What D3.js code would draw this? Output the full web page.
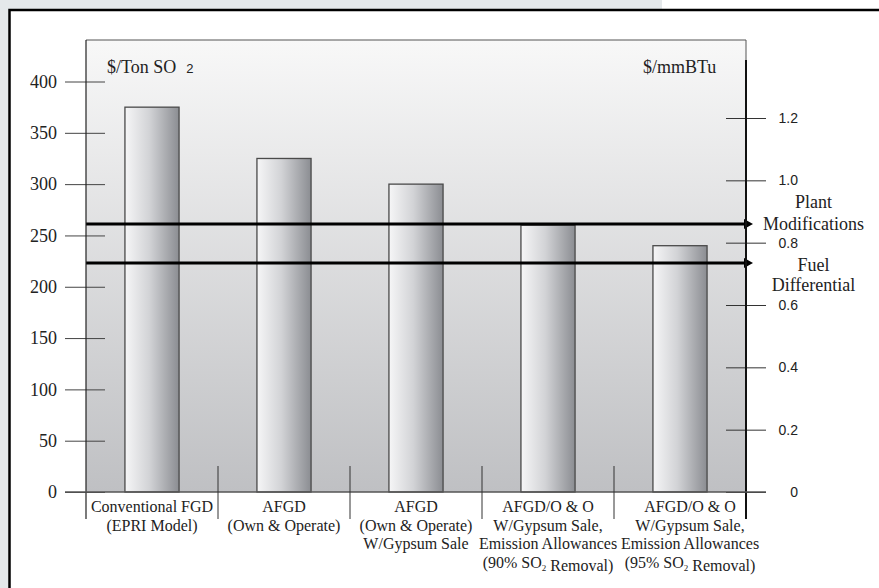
<!DOCTYPE html>
<html>
<head>
<meta charset="utf-8">
<script src="https://cdn.jsdelivr.net/npm/d3@7"></script>
<style>
  body { margin: 0; background: #fff; }
  svg { display: block; }
  .serif { font-family: "Liberation Serif", "Times New Roman", serif; fill: #222; }
  .sans { font-family: "Liberation Sans", Arial, sans-serif; fill: #222; }
</style>
</head>
<body>
<svg width="879" height="588"></svg>
<script>
// categories (label lines), cost per ton, right axis ticks, arrow levels
var categories = ["conv", "afgd", "afgdGyp", "afgd90", "afgd95"];
var catLabels = [
  ["Conventional FGD", "(EPRI Model)"],
  ["AFGD", "(Own & Operate)"],
  ["AFGD", "(Own & Operate)", "W/Gypsum Sale"],
  ["AFGD/O & O", "W/Gypsum Sale,", "Emission Allowances", "(90% SO2 Removal)"],
  ["AFGD/O & O", "W/Gypsum Sale,", "Emission Allowances", "(95% SO2 Removal)"]
];
var costPerTon = [375, 325, 300, 260, 240];
var leftTicks = [0, 50, 100, 150, 200, 250, 300, 350, 400];
var rightTicks = [0, 0.2, 0.4, 0.6, 0.8, 1.0, 1.2];
var rightTickLabels = ["0", "0.2", "0.4", "0.6", "0.8", "1.0", "1.2"];
var arrowNames = [["Plant", "Modifications"], ["Fuel", "Differential"]];
var arrowLevels = [0.86, 0.735]; // $/mmBTu

(function () {
var svg = d3.select("svg"),
  width = +svg.attr("width"),
  height = +svg.attr("height");

var left = 86, right = 746, plotTop = 40, base = 492;
// vertical offsets of the two label lines next to each arrow
var arrowLabelDy = [[-16, 6], [8, 28]];

var x = d3.scaleBand().domain(categories).range([left, right]);
var y = d3.scaleLinear().domain([0, 400]).range([base, 81.5]);
var yR = d3.scaleLinear().domain([0, 1.2]).range([base, 118]);

var defs = svg.append("defs");

var bgGrad = defs.append("linearGradient")
  .attr("id", "bg").attr("x1", 0).attr("y1", 0).attr("x2", 0).attr("y2", 1);
bgGrad.append("stop").attr("offset", "0%").attr("stop-color", "#f8f8f8");
bgGrad.append("stop").attr("offset", "100%").attr("stop-color", "#bfc0c3");

var barGrad = defs.append("linearGradient")
  .attr("id", "bar").attr("x1", 0).attr("y1", 0).attr("x2", 1).attr("y2", 0);
barGrad.append("stop").attr("offset", "0%").attr("stop-color", "#f6f6f7");
barGrad.append("stop").attr("offset", "45%").attr("stop-color", "#d2d3d6");
barGrad.append("stop").attr("offset", "100%").attr("stop-color", "#8b8d92");

defs.append("marker")
  .attr("id", "arrowhead")
  .attr("markerUnits", "userSpaceOnUse")
  .attr("viewBox", "0 0 9 10")
  .attr("markerWidth", 9).attr("markerHeight", 10)
  .attr("refX", 1).attr("refY", 5)
  .attr("orient", "auto")
  .append("path").attr("d", "M0,0 L9,5 L0,10 z").attr("fill", "#000");

// page backdrop and frame
svg.append("rect").attr("x", 0).attr("y", 0).attr("width", 662).attr("height", 10).attr("fill", "#e4e8ea");
svg.append("rect").attr("x", 0).attr("y", 0).attr("width", 9).attr("height", height).attr("fill", "#e4e8ea");
svg.append("path").attr("d", "M9.5," + height + " V10 H" + width)
  .attr("fill", "none").attr("stroke", "#000").attr("stroke-width", 2.5);

// plot area
svg.append("rect")
  .attr("x", left).attr("y", plotTop)
  .attr("width", right - left).attr("height", base - plotTop)
  .attr("fill", "url(#bg)");
svg.append("path").attr("d", "M" + left + "," + plotTop + " H" + right + " V60")
  .attr("fill", "none").attr("stroke", "#555").attr("stroke-width", 1);

// bars
var barW = x.bandwidth() * 0.41;
svg.selectAll("rect.bar")
  .data(costPerTon)
  .enter()
  .append("rect")
  .attr("class", "bar")
  .attr("x", function (d, i) { return x(categories[i]) + x.bandwidth() / 2 - barW / 2; })
  .attr("y", function (d) { return y(d); })
  .attr("width", barW)
  .attr("height", function (d) { return base - y(d); })
  .attr("fill", "url(#bar)")
  .attr("stroke", "#4a4a4a")
  .attr("stroke-width", 1.3);

// arrows
svg.selectAll("line.arrow")
  .data(arrowLevels)
  .enter()
  .append("line")
  .attr("class", "arrow")
  .attr("x1", left).attr("x2", right - 1)
  .attr("y1", function (d) { return yR(d); })
  .attr("y2", function (d) { return yR(d); })
  .attr("stroke", "#000").attr("stroke-width", 3)
  .attr("marker-end", "url(#arrowhead)");

svg.selectAll("text.arrowlab")
  .data(arrowLevels)
  .enter()
  .append("text")
  .attr("class", "arrowlab serif")
  .attr("text-anchor", "middle")
  .attr("font-size", 18)
  .each(function (d, i) {
    var t = d3.select(this);
    arrowNames[i].forEach(function (s, k) {
      t.append("tspan").attr("x", 813.5).attr("y", yR(d) + arrowLabelDy[i][k]).text(s);
    });
  });

// left axis
var gL = svg.append("g").attr("transform", "translate(" + left + ",0)")
  .call(d3.axisLeft(y).tickValues(leftTicks).tickFormat(d3.format("d")));
gL.select(".domain").remove();
gL.selectAll(".tick line").attr("x1", -21).attr("x2", 19).attr("stroke", "#444");
gL.selectAll(".tick text")
  .attr("x", -29)
  .attr("font-size", 18).attr("fill", "#222")
  .style("font-family", "'Liberation Serif', 'Times New Roman', serif");
svg.append("line").attr("x1", left).attr("x2", left).attr("y1", plotTop).attr("y2", 519)
  .attr("stroke", "#222").attr("stroke-width", 1.2);

// right axis
var gR = svg.append("g").attr("transform", "translate(" + right + ",0)")
  .call(d3.axisRight(yR).tickValues(rightTicks).tickFormat(function (d, i) { return rightTickLabels[i]; }));
gR.select(".domain").remove();
gR.selectAll(".tick line").attr("x1", -20).attr("x2", 20).attr("stroke", "#333");
gR.selectAll(".tick text")
  .attr("x", 52).attr("text-anchor", "end")
  .attr("font-size", 14).attr("fill", "#222")
  .style("font-family", "'Liberation Sans', Arial, sans-serif");
svg.append("line").attr("x1", right).attr("x2", right).attr("y1", 60).attr("y2", 519)
  .attr("stroke", "#111").attr("stroke-width", 2);

// baseline
svg.append("line").attr("x1", 65).attr("x2", 766).attr("y1", base).attr("y2", base)
  .attr("stroke", "#555").attr("stroke-width", 1.3);

// category separators
svg.selectAll("line.sep")
  .data(categories.slice(1))
  .enter()
  .append("line")
  .attr("class", "sep")
  .attr("x1", function (d) { return x(d); })
  .attr("x2", function (d) { return x(d); })
  .attr("y1", 466).attr("y2", 519)
  .attr("stroke", "#333").attr("stroke-width", 1);

// category labels
function addLine(t, str, cx, yy) {
  var ts = t.append("tspan").attr("x", cx).attr("y", yy);
  var parts = str.split("SO2");
  parts.forEach(function (p, k) {
    ts.append("tspan").text(p);
    if (k < parts.length - 1) {
      ts.append("tspan").text("SO");
      ts.append("tspan").attr("font-size", 9).attr("dy", 3).text("2");
      ts.append("tspan").attr("dy", -3).text("");
    }
  });
}
svg.selectAll("text.cat")
  .data(categories)
  .enter()
  .append("text")
  .attr("class", "cat serif")
  .attr("text-anchor", "middle")
  .attr("font-size", 16)
  .each(function (d, i) {
    var cx = x(d) + x.bandwidth() / 2 + (i === categories.length - 1 ? 10 : 0);
    var t = d3.select(this);
    catLabels[i].forEach(function (s, k) { addLine(t, s, cx, 512 + k * 18.5); });
  });

// unit titles
var tl = svg.append("text").attr("class", "serif").attr("x", 107).attr("y", 73).attr("font-size", 18);
tl.append("tspan").text("$/Ton SO");
tl.append("tspan").attr("dx", 10).attr("font-size", 13)
  .style("font-family", "'Liberation Sans', Arial, sans-serif").text("2");
svg.append("text").attr("class", "serif").attr("x", 643).attr("y", 73).attr("font-size", 18).text("$/mmBTu");
})();
</script>
</body>
</html>
